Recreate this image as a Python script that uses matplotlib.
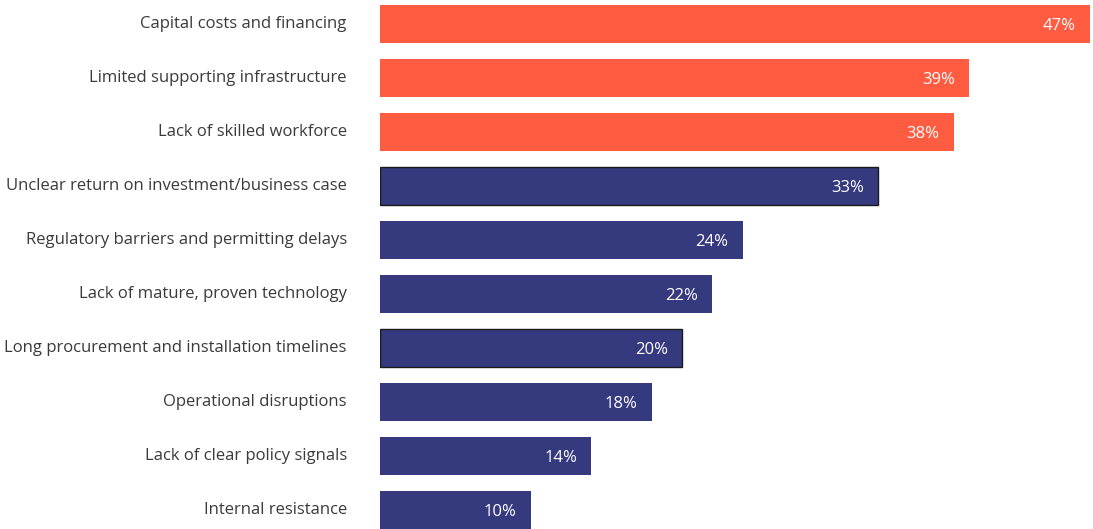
import matplotlib
matplotlib.use("Agg")
import matplotlib.pyplot as plt

# Share of respondents citing each barrier
barriers = [
    "Capital costs and financing",
    "Limited supporting infrastructure",
    "Lack of skilled workforce",
    "Unclear return on investment/business case",
    "Regulatory barriers and permitting delays",
    "Lack of mature, proven technology",
    "Long procurement and installation timelines",
    "Operational disruptions",
    "Lack of clear policy signals",
    "Internal resistance",
]
shares = [47, 39, 38, 33, 24, 22, 20, 18, 14, 10]
top_n = 3  # highlighted barriers

ORANGE = "#FF5C41"
NAVY = "#343A7D"
LABEL = "#3A3A3A"

plt.rcParams["font.family"] = ["Open Sans", "DejaVu Sans"]

fig = plt.figure(figsize=(10.93, 5.29), dpi=100)
ax = fig.add_axes([380 / 1093, 0, 1 - 380 / 1093, 1])

pos = list(range(len(barriers)))
colors = [ORANGE if i < top_n else NAVY for i in pos]
edges = ["#1a1a1a" if b in ("Unclear return on investment/business case",
                            "Long procurement and installation timelines")
         else "none" for b in barriers]
ax.barh(pos, shares, height=0.7, color=colors, edgecolor=edges, linewidth=1.0)

for y, v in zip(pos, shares):
    ax.text(v - 0.95, y + 0.04, f"{v}%", ha="right", va="center",
            color="white", fontsize=12)

for y, name in zip(pos, barriers):
    ax.text(-2.2, y, name, ha="right", va="center", color=LABEL,
            fontsize=12, clip_on=False)

ax.set_xlim(0, 47.2)
ax.set_ylim(9.352, -0.444)
ax.axis("off")

fig.savefig("out.png", dpi=100)
